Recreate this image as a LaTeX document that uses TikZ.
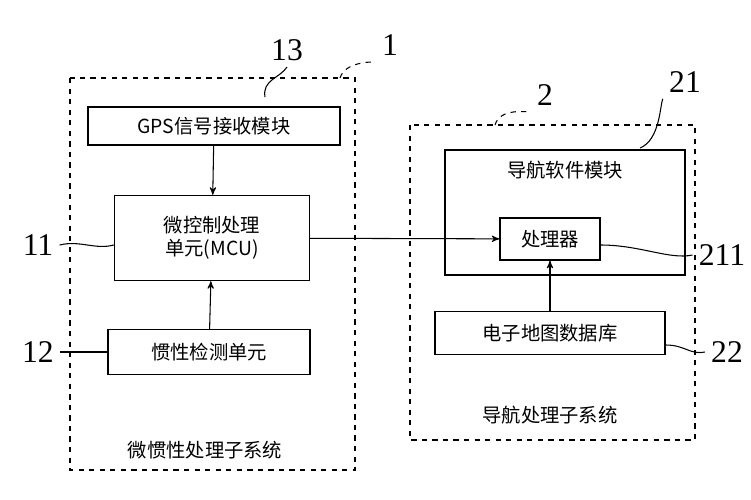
\documentclass[tikz,border=0pt]{standalone}
\usepackage{fontspec}
\newfontfamily\cjk{Noto Sans CJK SC}
\newfontfamily\numfont{Liberation Serif}
\usetikzlibrary{arrows,positioning}
\begin{document}
\begin{tikzpicture}[x=0.02cm,y=-0.02cm,>=stealth',semithick,
  blk/.style={draw,thick,font=\cjk\fontsize{11}{13}\selectfont},
  grp/.style={draw,thick,dashed},
  num/.style={font=\numfont\fontsize{18}{18}\selectfont}]
\useasboundingbox (0,0) rectangle (751,500);
			% subsystem 1
			\draw[grp] (70,78) rectangle (355,470);
			\node[blk, minimum width=252*0.02cm, minimum height=38*0.02cm] (gps) at (214,126) {GPS信号接收模块};
			\node[blk, minimum width=195*0.02cm, minimum height=85*0.02cm, align=center] (mcu) at (212,238) {微控制处理\\单元(MCU)};
			\node[blk, minimum width=202*0.02cm, minimum height=45*0.02cm] (imu) at (209,352) {惯性检测单元};
			\node[font=\cjk\fontsize{11}{13}\selectfont] (t1) at (205,450) {微惯性处理子系统};
			% subsystem 2
			\draw[grp] (410,125) rectangle (695,440);
			\draw[thick] (445,150) rectangle (685,275);
			\node[font=\cjk\fontsize{11}{13}\selectfont] (nav) at (565,170) {导航软件模块};
			\node[blk, minimum width=100*0.02cm, minimum height=42*0.02cm] (cpu) at (550,239) {处理器};
			\node[blk, minimum width=230*0.02cm, minimum height=43*0.02cm] (map) at (550,333) {电子地图数据库};
			\node[font=\cjk\fontsize{11}{13}\selectfont] (t2) at (550,415) {导航处理子系统};
			% arrows
			\draw[->] (gps) -- (mcu);
			\draw[->] (imu) -- (mcu);
			\draw[->] (mcu) -- (cpu);
			\draw[->] (map) -- (cpu);
			% reference numbers
			\node[num] (n13) at (287,50) {13};
			\node[num] (n1) at (390,45) {1};
			\node[num] (n2) at (545,95) {2};
			\node[num] (n21) at (685,82) {21};
			\node[num] (n11) at (38,245) {11};
			\node[num] (n12) at (38,352) {12};
			\node[num] (n211) at (722,255) {211};
			\node[num] (n22) at (727,352) {22};
			\draw (265,97) .. controls (262,80) and (280,78) .. (n13.south);
			\draw[dashed] (340,78) .. controls (345,62) and (370,62) .. (n1.south west);
			\draw[dashed] (495,125) .. controls (500,108) and (525,112) .. (n2.south west);
			\draw (640,148) .. controls (660,140) and (660,105) .. (n21.south west);
			\draw (n11.east) .. controls (80,240) and (95,250) .. (mcu.west |- 0,245);
			\draw (n12.east) -- (imu.west);
			\draw (cpu.east |- 0,245) .. controls (640,245) and (670,260) .. (n211.west);
			\draw (map.east |- 0,345) .. controls (685,345) and (690,355) .. (n22.west);
\end{tikzpicture}
\end{document}
